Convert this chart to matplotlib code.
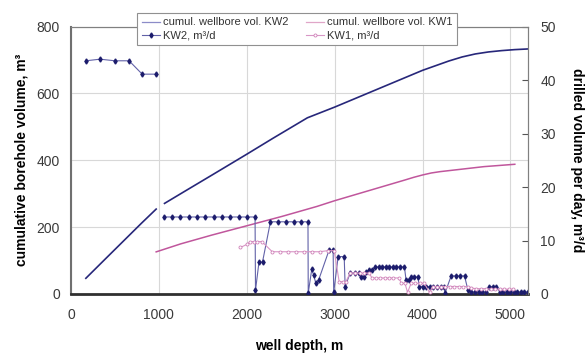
"""
Cumulative wellbore volume and drilled volume per day for KW1 / KW2.

Output:
    out.png
"""

import numpy as np
import matplotlib

matplotlib.use("Agg")
import matplotlib.pyplot as plt
from matplotlib import rcParams

nan = np.nan

# cumulative wellbore volume, m3 (left axis)
kw2_cum_depth = [170, 400, 600, 800, 970, nan,
                 1065, 1300, 1600, 2000, 2300, 2690, 3000, 3500, 4000, 4300, 4450, 4600, 4750,
                 4900, 5050, 5200]
kw2_cum_vol = [47, 107, 159, 211, 254, nan,
               271, 308, 355, 418, 466, 527, 559, 614, 669, 697, 709, 718, 724, 728, 731, 733]

kw1_cum_depth = [970, 1250, 1600, 2000, 2400, 2800, 3000, 3400, 3800, 3900, 4000, 4100, 4200,
                 4400, 4700, 5050]
kw1_cum_vol = [126, 150, 176, 204, 232, 262, 279, 310, 341, 349, 356, 362, 366, 372, 381, 388]

# drilled volume per day, m3/d (right axis)
kw2_day_depth = [171, 331, 502, 662, 811, 970, nan,
                 1055, 1150, 1245, 1340, 1435, 1530, 1625, 1720, 1815, 1910, 2005, 2095,
                 2100, 2140, 2180, 2270, 2360, 2450, 2540, 2620, 2697,
                 2700, 2740, 2760, 2785, 2820, 2937, 2983,
                 2990, 3040, 3109, 3120, 3177, 3230, 3280, 3300, 3337, 3356, 3394, 3425,
                 3459, 3500, 3540, 3580, 3620, 3660, 3700, 3740, 3794,
                 3813, 3847, 3870, 3908, 3946, 3965, 4005, 4045, 4085, 4125, 4165, 4205, 4250,
                 4255, 4326, 4376, 4426, 4478, 4517, 4555, 4600, 4640, 4680, 4720,
                 4760, 4800, 4840, 4880, 4920, 4960, 5000, 5040, 5080, 5120, 5160, 5200]
kw2_day_vol = [43.6, 43.9, 43.6, 43.6, 41.1, 41.1, nan,
               14.4, 14.4, 14.4, 14.4, 14.4, 14.4, 14.4, 14.4, 14.4, 14.4, 14.4, 14.4,
               0.7, 6.0, 6.0, 13.5, 13.5, 13.5, 13.5, 13.5, 13.5,
               0.2, 4.6, 3.6, 2.1, 2.7, 8.2, 8.2,
               0.3, 7.0, 7.0, 1.4, 3.9, 3.9, 3.9, 3.2, 3.2, 4.2, 4.5, 4.5,
               5.1, 5.1, 5.1, 5.1, 5.1, 5.1, 5.1, 5.1, 5.1,
               2.6, 2.6, 3.2, 3.2, 3.2, 1.4, 1.4, 1.4, 1.4, 1.4, 1.4, 1.4, 1.4,
               0.1, 3.4, 3.4, 3.4, 3.4, 0.7, 0.4, 0.4, 0.4, 0.4, 0.4,
               1.4, 1.4, 1.4, 0.4, 0.4, 0.4, 0.4, 0.4, 0.4, 0.4, 0.4, 0.4]

kw1_day_depth = [1929, 2005, 2043, 2081, 2119, 2172, 2291, 2380, 2470, 2560, 2650, 2740, 2830,
                 2920, 2995, 3052, 3090, 3128, 3177, 3230, 3290, 3340, 3394,
                 3425, 3470, 3520, 3570, 3620, 3670, 3730, 3760, 3800, 3830, 3870, 3920,
                 3970, 4020, 4080, 4115, 4160, 4210, 4260, 4310, 4360, 4410, 4460, 4517,
                 4555, 4610, 4660, 4720, 4780, 4830, 4880, 4930, 4980, 5030]
kw1_day_vol = [8.7, 9.3, 9.8, 9.8, 9.8, 9.8, 7.9, 7.9, 7.9, 7.9, 7.9, 7.9, 7.9,
               8.1, 8.1, 2.3, 2.3, 2.3, 3.9, 3.9, 3.9, 3.9, 3.9,
               3.0, 3.0, 3.0, 3.0, 3.0, 3.0, 3.0, 2.0, 2.0, 0.3, 2.0, 2.0,
               2.0, 2.0, 0.3, 1.4, 1.4, 1.4, 1.4, 1.4, 1.4, 1.4, 1.4, 1.4,
               1.1, 1.0, 1.0, 1.0, 0.9, 0.9, 0.9, 0.9, 0.9, 0.9]

x_ticks = [0, 1000, 2000, 3000, 4000, 5000]
left_ticks = [0, 200, 400, 600, 800]
right_ticks = [0, 10, 20, 30, 40, 50]

KW2_COLOR = "#27277a"
KW1_COLOR = "#c0569c"
KW1_DAY_COLOR = "#d896c6"
GRID_COLOR = "#d8d8d8"
TEXT_COLOR = "#3a3a3a"


def main() -> None:
    rcParams["font.family"] = ["Liberation Sans", "DejaVu Sans"]
    rcParams["font.size"] = 10

    fig = plt.figure(figsize=(5.86, 3.54), dpi=100)
    ax = fig.add_axes([0.121, 0.1695, 0.780, 0.7555])
    ax2 = ax.twinx()

    l1, = ax.plot(kw2_cum_depth, kw2_cum_vol, color=KW2_COLOR, lw=1.2,
                  label="cumul. wellbore vol. KW2")
    l2, = ax.plot(kw1_cum_depth, kw1_cum_vol, color=KW1_COLOR, lw=1.1,
                  label="cumul. wellbore vol. KW1")
    l3, = ax2.plot(kw2_day_depth, kw2_day_vol, color="#6262a8", lw=0.8,
                   marker="d", ms=2.6, mfc="#1c1c6c", mec="#1c1c6c",
                   label="KW2, m³/d")
    l4, = ax2.plot(kw1_day_depth, kw1_day_vol, color=KW1_DAY_COLOR, lw=0.8,
                   marker="o", ms=2.2, mfc="white", mec="#cf80b8", mew=0.6,
                   label="KW1, m³/d")

    ax.set_xlim(0, 5200)
    ax.set_ylim(0, 800)
    ax2.set_ylim(0, 50)
    ax.set_xticks(x_ticks)
    ax.set_yticks(left_ticks)
    ax2.set_yticks(right_ticks)

    ax.grid(True, color=GRID_COLOR, lw=0.8)
    ax.set_axisbelow(True)
    ax.tick_params(axis="y", length=0, labelsize=10, labelcolor=TEXT_COLOR, pad=8)
    ax.tick_params(axis="x", length=0, labelsize=10, labelcolor=TEXT_COLOR, pad=10)
    ax2.tick_params(axis="y", direction="in", length=4, labelsize=10,
                    labelcolor=TEXT_COLOR, color="#555555", pad=9)

    for spine in ["top", "right"]:
        ax.spines[spine].set_color("#808080")
        ax2.spines[spine].set_color("#808080")
    ax.spines["left"].set_color("#707070")
    ax.spines["left"].set_linewidth(1.5)
    ax.spines["bottom"].set_color("#303030")
    ax.spines["bottom"].set_linewidth(2)
    ax2.spines["bottom"].set_visible(False)
    ax2.spines["left"].set_visible(False)

    ax.set_xlabel("well depth, m", fontweight="bold", fontsize=10, labelpad=12)
    ax.set_ylabel("cumulative borehole volume, m³", fontweight="bold", fontsize=10, labelpad=6)
    ax2.set_ylabel("drilled volume per day, m³/d", fontweight="bold", fontsize=10,
                   rotation=270, labelpad=20)

    leg = fig.legend(handles=[l1, l3, l2, l4], ncol=2, loc="upper left",
                     bbox_to_anchor=(0.225, 0.979), fontsize=8, frameon=True,
                     fancybox=False, edgecolor="#909090", framealpha=1,
                     handlelength=1.6, handletextpad=0.3, columnspacing=1.6,
                     borderpad=0.4, labelspacing=0.3)
    leg.get_frame().set_linewidth(0.8)
    for text in leg.get_texts():
        text.set_color("#333333")
    handles = leg.legend_handles
    handles[0].set_color("#8c8cc8")
    handles[0].set_linewidth(0.9)
    handles[2].set_color("#e0a6c8")
    handles[2].set_linewidth(0.9)

    fig.savefig("out.png", dpi=100, facecolor="white")
    plt.close(fig)


if __name__ == "__main__":
    main()
